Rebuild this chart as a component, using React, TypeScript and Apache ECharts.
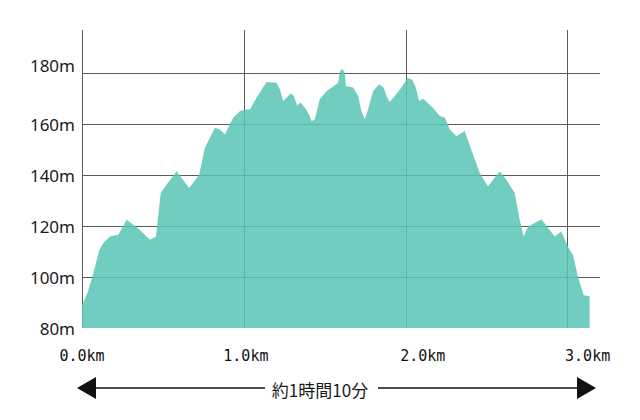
import React, { useEffect, useRef } from "react";
import * as echarts from "echarts";

const distanceKm = [
  0, 0.033, 0.07, 0.107, 0.132, 0.173, 0.224, 0.276, 0.358, 0.42, 0.457, 0.486, 0.523, 0.585,
  0.662, 0.724, 0.759, 0.821, 0.852, 0.883, 0.934, 0.975, 1.006, 1.037, 1.078, 1.14, 1.202,
  1.222, 1.243, 1.263, 1.288, 1.309, 1.329, 1.35, 1.377, 1.403, 1.418, 1.438, 1.469, 1.51,
  1.562, 1.582, 1.593, 1.609, 1.623, 1.63, 1.675, 1.706, 1.726, 1.747, 1.767, 1.798, 1.835,
  1.864, 1.881, 1.901, 1.932, 1.973, 2.014, 2.041, 2.062, 2.082, 2.107, 2.168, 2.21, 2.241,
  2.272, 2.313, 2.364, 2.405, 2.457, 2.508, 2.58, 2.622, 2.673, 2.704, 2.728, 2.755, 2.838,
  2.92, 2.961, 3.002, 3.033, 3.064, 3.099, 3.136,
];
const elevationM = [
  89, 93.6, 101.5, 110.6, 113.4, 115.9, 116.6, 122.5, 118.5, 114.6, 115.9, 133.0, 136.3, 141.5,
  135.0, 140.2, 150.7, 158.6, 157.9, 156.0, 162.5, 165.1, 165.8, 165.8, 170.4, 176.6, 176.3,
  173.7, 169.1, 170.4, 172.1, 171.1, 167.4, 168.5, 166.5, 163.8, 161.2, 161.9, 169.8, 173.0,
  175.3, 176.3, 180.9, 181.6, 180.3, 175.0, 174.4, 171.1, 165.1, 161.9, 165.8, 173.0, 175.7,
  174.4, 171.1, 168.7, 171.1, 174.4, 178.3, 177.4, 174.4, 169.1, 170.0, 166.5, 163.2, 162.6,
  157.9, 155.3, 157.3, 150.0, 140.9, 135.6, 141.5, 138.2, 133.0, 122.5, 115.9, 119.8, 122.7,
  115.9, 117.9, 111.9, 108.7, 100.1, 92.9, 92.5,
];
const xTickLabels = ["0.0km", "1.0km", "2.0km", "3.0km"];
const yTickUnit = "m";
const durationLabel = "約1時間10分";

const FILL = "rgba(90,197,180,0.86)";
const GRID_LINE = "#5c5c5c";

export default function App() {
  const ref = useRef<HTMLDivElement>(null);

  useEffect(() => {
    if (!ref.current) return;
    const chart = echarts.init(ref.current, null, { renderer: "svg" });
    const data = distanceKm.map((d, i) => [d, elevationM[i]]);
    const xFont = { fontFamily: "DejaVu Sans Mono", fontSize: 15, color: "#111" };
    const yFont = { fontFamily: "Noto Sans", fontSize: 17, color: "#1a1a1a" };

    chart.setOption({
      animation: false,
      backgroundColor: "#ffffff",
      grid: { left: 82, right: 40, top: 30, bottom: 92 },
      xAxis: {
        type: "value",
        min: 0,
        max: 3.2,
        interval: 1,
        axisLine: { show: false },
        axisTick: { show: false },
        splitLine: {
          show: true,
          showMinLine: true,
          showMaxLine: false,
          lineStyle: { color: GRID_LINE, width: 1 },
        },
        axisLabel: {
          ...xFont,
          margin: 20,
          showMaxLabel: false,
          formatter: (v: number) => {
            const i = Math.round(v);
            if (Math.abs(v - i) > 1e-6 || i < 0 || i >= xTickLabels.length) return "";
            return `{k${i}|${xTickLabels[i]}}`;
          },
          rich: {
            k0: { ...xFont },
            k1: { ...xFont, padding: [0, 0, 6, 4] },
            k2: { ...xFont, padding: [0, 0, 0, 34] },
            k3: { ...xFont, padding: [0, 0, 0, 40] },
          },
        },
      },
      yAxis: {
        type: "value",
        min: 80,
        max: 197,
        interval: 20,
        axisLine: { show: false },
        axisTick: { show: false },
        splitLine: {
          show: true,
          showMinLine: false,
          showMaxLine: false,
          lineStyle: { color: GRID_LINE, width: 1 },
        },
        axisLabel: {
          ...yFont,
          margin: 7,
          showMaxLabel: false,
          formatter: (v: number) => {
            if (v % 20 !== 0) return "";
            return v === 180 ? `{up|${v}${yTickUnit}}` : `{n|${v}${yTickUnit}}`;
          },
          rich: {
            n: { ...yFont },
            up: { ...yFont, padding: [0, 0, 16, 0] },
          },
        },
      },
      series: [
        {
          type: "line",
          data,
          symbol: "none",
          smooth: false,
          z: 2,
          lineStyle: { width: 0, color: FILL },
          areaStyle: { color: FILL, opacity: 1 },
        },
      ],
      graphic: [
        {
          type: "line",
          shape: { x1: 94, y1: 388, x2: 265, y2: 388 },
          style: { stroke: "#111", lineWidth: 1.5 },
        },
        {
          type: "line",
          shape: { x1: 378, y1: 388, x2: 580, y2: 388 },
          style: { stroke: "#111", lineWidth: 1.5 },
        },
        {
          type: "polygon",
          shape: { points: [[77, 388], [96, 377], [96, 399]] },
          style: { fill: "#111" },
        },
        {
          type: "polygon",
          shape: { points: [[596, 388], [577, 377], [577, 399]] },
          style: { fill: "#111" },
        },
        {
          type: "text",
          x: 320,
          y: 389,
          style: {
            text: durationLabel,
            fontFamily: "Noto Sans CJK JP",
            fontSize: 17,
            fill: "#1a1a1a",
            align: "center",
            verticalAlign: "middle",
          },
        },
      ],
    });

    return () => chart.dispose();
  }, []);

  return (
    <div
      ref={ref}
      style={{ position: "absolute", left: 0, top: 0, width: 640, height: 420 }}
    />
  );
}
